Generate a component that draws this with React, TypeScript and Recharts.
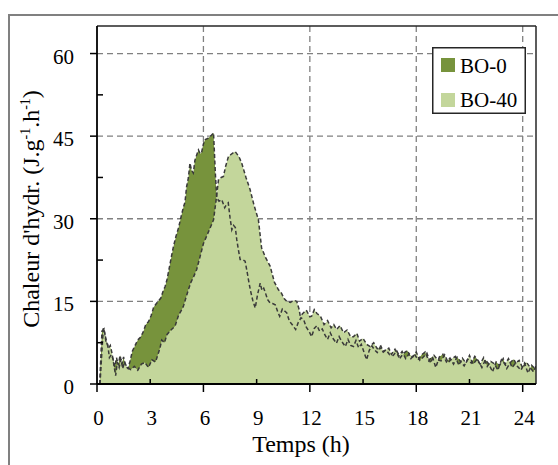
import React from 'react';
import {
  ComposedChart,
  Area,
  Line,
  XAxis,
  YAxis,
  CartesianGrid,
  ReferenceLine,
  Legend,
} from 'recharts';

// Temps (h) / chaleur d'hydratation (J.g-1.h-1)
const bo0Temps = [
  0.15, 0.28, 0.4, 0.5, 0.6, 0.7, 0.8, 0.9, 1.0, 1.1, 1.2, 1.3, 1.4, 1.5, 1.6, 1.75, 1.85,
  2.0, 2.15, 2.3, 2.45, 2.6, 2.75, 2.9, 3.05, 3.2, 3.35, 3.5, 3.6, 3.72, 3.84, 3.95,
  4.1, 4.2, 4.3, 4.45, 4.6, 4.75, 4.88, 4.96, 5.05, 5.15, 5.24, 5.33, 5.43, 5.52, 5.62,
  5.72, 5.82, 5.9, 6.0, 6.1, 6.25, 6.4, 6.57, 6.62, 6.68, 6.75, 6.88, 7.03, 7.2, 7.3,
  7.4, 7.5, 7.6, 7.7, 7.8, 7.88, 7.97, 8.07, 8.2, 8.35, 8.45, 8.54, 8.65, 8.78, 8.92,
  9.05, 9.2, 9.3, 9.4, 9.5, 9.62, 9.76, 9.9, 10.05, 10.2, 10.3, 10.45, 10.6, 10.7, 10.85,
  11.0, 11.2, 11.35, 11.5, 11.65, 11.8, 11.95, 12.1, 12.25, 12.4, 12.55, 12.7, 12.85,
  13.0, 13.15, 13.3, 13.5, 13.65, 13.8, 14.0, 14.15, 14.3, 14.46, 14.6, 14.75, 14.9,
  15.05, 15.2, 15.35, 15.5, 15.65, 15.8, 15.95, 16.1, 16.3, 16.5, 16.7, 16.9, 17.1, 17.3,
  17.5, 17.7, 17.9, 18.1, 18.3, 18.5, 18.7, 18.9, 19.1, 19.3, 19.5, 19.7, 19.9, 20.1,
  20.3, 20.5, 20.7, 20.9, 21.1, 21.3, 21.5, 21.7, 21.9, 22.1, 22.3, 22.5, 22.7, 22.9,
  23.1, 23.3, 23.5, 23.7, 23.9, 24.1, 24.3, 24.5, 24.75,
];
const bo0Valeurs = [
  0, 9.6, 10, 7.8, 7.2, 4.8, 5.3, 4.6, 3.1, 4.8, 3.4, 5.2, 3.6, 4.9, 3.3, 2.8, 4.0,
  6.0, 7.0, 8.0, 8.5, 9.4, 10.8, 11.3, 12.4, 14.0, 14.6, 15.2, 15.6, 16.8, 17.7, 19.0,
  21.5, 23.2, 24.8, 26.8, 28.4, 30.5, 32.2, 33.0, 35.8, 37.4, 40.1, 38.8, 38.3, 40.6, 41.6,
  42.5, 41.8, 42.1, 43.6, 44.4, 44.6, 45.0, 45.6, 42.0, 37.8, 33.8, 33.2, 33.5, 32.0, 32.6,
  32.9, 30.2, 28.0, 28.8, 28.4, 26.2, 24.4, 22.6, 22.6, 22.3, 20.6, 18.9, 17.0, 15.2, 13.8,
  16.2, 18.3, 17.0, 17.4, 16.5, 15.3, 14.7, 14.6, 14.4, 13.0, 12.3, 13.6, 13.2, 12.9, 11.4,
  10.8, 9.9, 11.2, 12.0, 11.7, 10.3, 9.6, 8.6, 10.1, 10.6, 9.6, 10.0, 8.9,
  8.1, 9.3, 8.3, 7.4, 8.6, 7.7, 6.8, 8.1, 7.0, 6.8, 7.9, 6.6, 7.2,
  5.8, 4.4, 6.1, 6.9, 6.2, 5.7, 6.6, 5.9, 6.2, 5.3, 5.2, 6.0, 4.8, 5.6,
  6.1, 4.6, 5.4, 4.4, 5.3, 5.8, 4.2, 5.0, 3.0, 4.9, 5.4, 4.0, 4.7, 3.6,
  4.9, 4.1, 3.3, 4.5, 3.8, 5.0, 4.2, 3.0, 4.4, 3.6, 2.2, 4.0, 3.4, 4.6,
  2.8, 3.9, 4.5, 3.2, 2.5, 3.8, 2.0, 3.4, 2.6,
];

const bo40Temps = [
  0.17, 0.26, 0.36, 0.45, 0.55, 0.65, 0.75, 0.85, 0.95, 1.05, 1.15, 1.25, 1.35, 1.45, 1.55,
  1.7, 1.9, 2.1, 2.3, 2.5, 2.7, 2.9, 3.1, 3.3, 3.4, 3.55, 3.65, 3.8, 3.95, 4.2, 4.4, 4.6,
  4.78, 4.87, 5.0, 5.15, 5.3, 5.45, 5.62, 5.8, 6.0, 6.2, 6.4, 6.57, 6.7, 6.85, 7.0, 7.13,
  7.25, 7.41, 7.6, 7.79, 8.0, 8.16, 8.4, 8.63, 8.85, 9.1, 9.28, 9.5, 9.76, 10.0, 10.23,
  10.4, 10.55, 10.7, 10.9, 11.1, 11.26, 11.4, 11.46, 11.6, 11.8, 12.0, 12.1, 12.25, 12.4,
  12.6, 12.8, 13.0, 13.2, 13.35, 13.5, 13.7, 13.9, 14.1, 14.3, 14.46, 14.65, 14.8, 15.0,
  15.2, 15.4, 15.6, 15.8, 16.0, 16.15, 16.3, 16.45, 16.6, 16.8, 17.0, 17.2, 17.4, 17.6,
  17.8, 18.0, 18.2, 18.4, 18.6, 18.8, 19.0, 19.2, 19.4, 19.6, 19.8, 20.0, 20.2, 20.4,
  20.6, 20.8, 21.0, 21.2, 21.4, 21.6, 21.8, 22.0, 22.2, 22.4, 22.6, 22.8, 23.0, 23.2,
  23.4, 23.6, 23.8, 24.0, 24.2, 24.4, 24.6, 24.75,
];
const bo40Valeurs = [
  0, 5.0, 10.2, 9.0, 7.5, 6.5, 7.0, 5.5, 3.5, 1.5, 4.0, 3.0, 4.5, 2.8, 4.0,
  3.0, 2.6, 3.2, 2.5, 3.6, 3.9, 3.0, 4.4, 4.0, 5.0, 6.5, 8.0, 7.5, 9.0, 9.9, 10.5, 12.5,
  13.5, 14.1, 15.5, 17.1, 18.5, 19.5, 20.8, 23.0, 25.5, 27.0, 28.5, 29.8, 33.0, 37.1, 37.5, 37.7,
  39.5, 41.3, 41.8, 42.2, 41.3, 40.1, 37.5, 35.3, 32.5, 29.8, 24.7, 23.0, 21.4, 18.5, 17.1,
  16.5, 15.5, 15.0, 14.8, 15.2, 15.0, 13.5, 12.3, 12.8, 13.4, 12.2, 12.3, 13.5, 12.8,
  12.3, 10.8, 11.5, 10.2, 10.8, 9.9, 10.6, 9.3, 9.8, 8.6, 8.6, 9.2, 7.8, 8.3,
  7.2, 6.8, 7.5, 6.4, 6.9, 5.8, 6.2, 6.5, 5.4, 6.3, 5.0, 5.9, 4.6, 5.5,
  4.9, 5.8, 4.3, 4.9, 5.6, 3.8, 5.2, 4.4, 4.2, 5.3, 3.9, 4.6, 5.0, 3.4,
  4.7, 3.8, 5.2, 3.6, 4.4, 3.6, 4.8, 3.2, 4.1, 3.7, 2.5, 4.4, 3.6, 4.6,
  3.0, 3.8, 4.3, 2.9, 4.0, 3.1, 2.2, 3.3,
];

const ticksX = [0, 3, 6, 9, 12, 15, 18, 21, 24];
const ticksY = [0, 7.5, 15, 22.5, 30, 37.5, 45, 52.5, 60];
const grilleX = [6, 12, 18, 24];
const grilleY = [15, 30, 45, 60];

const bo0Data = bo0Temps.map((t, i) => ({ t, v: bo0Valeurs[i] }));
const bo40Data = bo40Temps.map((t, i) => ({ t, v: bo40Valeurs[i] }));

const FONT = '"Liberation Serif", serif';
const VERT_FONCE = '#77933C';
const VERT_CLAIR = '#C3D69B';
const CONTOUR = '#3a3a3a';

const XTick = ({ x, y, payload }: any) => {
  const major = payload.value % 6 === 0;
  return (
    <g>
      <line x1={x} x2={x} y1={major ? y : y - 5} y2={major ? y + 8 : y} stroke="#000" strokeWidth={1.5} />
      <text x={x + 1.5} y={y + 41} textAnchor="middle" fontFamily={FONT} fontSize={21} fill="#000">
        {payload.value}
      </text>
    </g>
  );
};

const YTick = ({ x, y, payload }: any) => {
  const major = payload.value % 15 === 0;
  return (
    <g>
      <line x1={major ? x - 7 : x} x2={major ? x : x + 6} y1={y} y2={y} stroke="#000" strokeWidth={1.5} />
      {major && (
        <text x={x - 23} y={y + 10} textAnchor="end" fontFamily={FONT} fontSize={21} fill="#000">
          {payload.value}
        </text>
      )}
    </g>
  );
};

const TitreY = () => (
  <text transform="translate(39, 209) rotate(-90)" textAnchor="middle" fontFamily={FONT} fontSize={24} fill="#000">
    Chaleur d'hydr. (J.g
    <tspan fontSize={14} dy={-9}>-1</tspan>
    <tspan dy={9}>.h</tspan>
    <tspan fontSize={14} dy={-9}>-1</tspan>
    <tspan dy={9}>)</tspan>
  </text>
);

const TitreX = () => (
  <text x={301} y={452} textAnchor="middle" fontFamily={FONT} fontSize={24} fill="#000">
    Temps (h)
  </text>
);

const Legende = () => (
  <svg width={94} height={67}>
    <rect x={0.75} y={0.75} width={92.5} height={65.5} fill="#fff" stroke="#262626" strokeWidth={1.5} />
    {['BO-0', 'BO-40'].map((nom, i) => (
      <g key={nom}>
        <rect x={9} y={11 + i * 35} width={14} height={14} fill={i === 0 ? VERT_FONCE : VERT_CLAIR} />
        <text x={28} y={26 + i * 34} fontFamily={FONT} fontSize={21} fill="#000">
          {nom}
        </text>
      </g>
    ))}
  </svg>
);

export default function App() {
  return (
    <div style={{ position: 'absolute', left: 0, top: 0, width: 558, height: 465, overflow: 'hidden', background: '#fff' }}>
      <div
        style={{
          position: 'absolute',
          left: 8,
          top: 14,
          width: 550,
          height: 451,
          borderTop: '2px solid #808080',
          borderLeft: '2px solid #808080',
          boxSizing: 'border-box',
        }}
      />
      <div style={{ position: 'absolute', left: 0, top: 0 }}>
        <ComposedChart width={558} height={465} margin={{ top: 26, right: 22, bottom: 0, left: 0 }}>
          <CartesianGrid
            stroke="#808080"
            strokeWidth={1.3}
            strokeDasharray="6 4"
            horizontalValues={grilleY}
            verticalValues={grilleX}
          />
          <XAxis
            dataKey="t"
            type="number"
            domain={[0, 24.75]}
            ticks={ticksX}
            interval={0}
            height={81}
            allowDataOverflow
            tickLine={false}
            tickSize={0}
            tickMargin={0}
            tick={<XTick />}
            axisLine={{ stroke: '#000', strokeWidth: 1.8 }}
            label={<TitreX />}
          />
          <YAxis
            type="number"
            domain={[0, 65]}
            ticks={ticksY}
            interval={0}
            width={97}
            allowDataOverflow
            tickLine={false}
            tickSize={0}
            tickMargin={0}
            tick={<YTick />}
            axisLine={{ stroke: '#000', strokeWidth: 1.8 }}
            label={<TitreY />}
          />
          <Area
            name="BO-0"
            data={bo0Data}
            dataKey="v"
            type="linear"
            fill={VERT_FONCE}
            fillOpacity={1}
            stroke="none"
            isAnimationActive={false}
          />
          <Area
            name="BO-40"
            data={bo40Data}
            dataKey="v"
            type="linear"
            fill={VERT_CLAIR}
            fillOpacity={1}
            stroke={CONTOUR}
            strokeWidth={1.5}
            strokeDasharray="4 2.5"
            isAnimationActive={false}
          />
          <Line
            name="BO-0 contour"
            data={bo0Data}
            dataKey="v"
            type="linear"
            stroke={CONTOUR}
            strokeWidth={1.5}
            strokeDasharray="4 2.5"
            dot={false}
            activeDot={false}
            legendType="none"
            isAnimationActive={false}
          />
          <ReferenceLine y={65} stroke="#262626" strokeWidth={1.5} />
          <ReferenceLine x={24.75} stroke="#262626" strokeWidth={1.5} />
          <Legend
            layout="horizontal"
            align="center"
            verticalAlign="middle"
            content={<Legende />}
            wrapperStyle={{ left: 432, top: 47, width: 94, height: 67 }}
          />
        </ComposedChart>
      </div>
    </div>
  );
}
